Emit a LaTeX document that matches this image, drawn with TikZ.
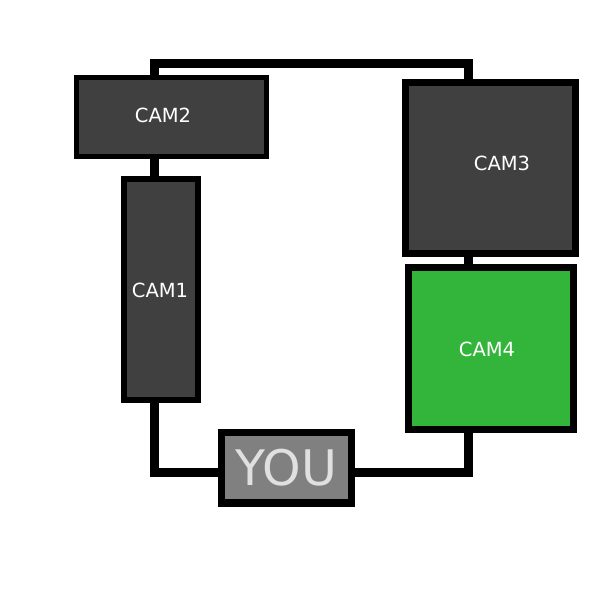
\documentclass[tikz,border=0pt]{standalone}
\usepackage{fontspec}
\setmainfont{DejaVu Sans}
\definecolor{camgray}{HTML}{404040}
\definecolor{camgreen}{HTML}{32B53A}
\definecolor{yougray}{HTML}{808080}
\definecolor{youtext}{HTML}{E0E0E0}
\tikzset{
  cam/.style={draw=black,fill=camgray,inner sep=0pt},
  camlabel/.style={text=white,font=\fontsize{19.5}{20}\selectfont,inner sep=0pt},
}
\begin{document}
\begin{tikzpicture}[x=1pt,y=-1pt]
\useasboundingbox(0,0)rectangle(600,600);
% the loop behind the boxes
\coordinate(TL)at(154.5,63);\coordinate(TR)at(468.5,63);
\coordinate(BR)at(468.5,472);\coordinate(BL)at(154.5,472);
\draw[line width=9pt](TL)--(TR)--(BR)--(BL)--cycle;
% cameras
\node[cam,line width=6pt,minimum width=74pt,minimum height=221pt](cam1)at(161,289.5){};
\node[cam,line width=5pt,minimum width=190pt,minimum height=79pt](cam2)at(171.5,117){};
\node[cam,line width=7pt,minimum width=170pt,minimum height=171pt](cam3)at(490.5,168){};
\node[cam,fill=camgreen,line width=7pt,minimum width=165pt,minimum height=162pt](cam4)at(491,348.5){};
\node[camlabel](l1)at(160,290){CAM1};
\node[camlabel](l2)at(163,115){CAM2};
\node[camlabel](l3)at(502,163){CAM3};
\node[camlabel](l4)at(487,349){CAM4};
% you
\node[cam,fill=yougray,line width=7.5pt,minimum width=130pt,minimum height=70.5pt,
  text=youtext,font=\fontsize{49}{49}\selectfont](you)at(286.5,467.75){YOU};
\end{tikzpicture}
\end{document}
